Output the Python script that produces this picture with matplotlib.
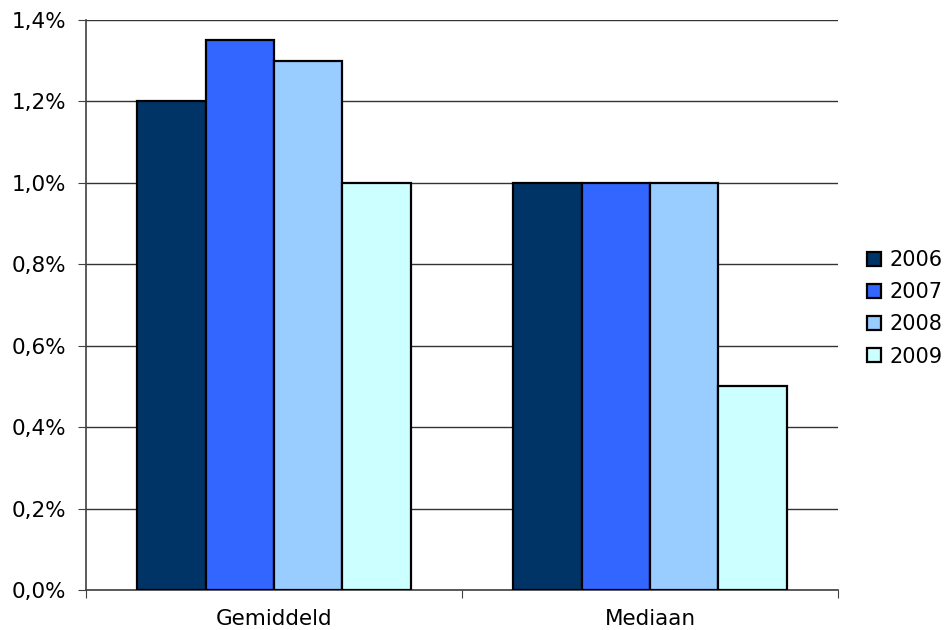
import numpy as np
import matplotlib.pyplot as plt
from matplotlib.ticker import FuncFormatter

categories = ['Gemiddeld', 'Mediaan']
years = ['2006', '2007', '2008', '2009']
values = {
    '2006': [1.20, 1.00],
    '2007': [1.35, 1.00],
    '2008': [1.30, 1.00],
    '2009': [1.00, 0.50],
}
colors = ['#003366', '#3366ff', '#99ccff', '#ccffff']

fig = plt.figure(figsize=(9.46, 6.3), dpi=100)
ax = fig.add_axes([0.0909, 0.0635, 0.795, 0.9048])

x = np.arange(len(categories))
width = 0.182
for i, (year, color) in enumerate(zip(years, colors)):
    offset = (i - 1.5) * width
    ax.bar(x + offset, values[year], width, color=color, edgecolor='black',
           linewidth=1.6, label=year, zorder=3)

ax.set_xlim(-0.5, 1.5)
ax.set_ylim(0, 1.4)
ax.set_yticks(np.arange(0, 1.41, 0.2))
ax.yaxis.set_major_formatter(FuncFormatter(lambda v, _: f'{v:.1f}%'.replace('.', ',')))
ax.yaxis.grid(True, color='#333333', linewidth=1, zorder=0)

# category labels sit between the tick marks
ax.set_xticks([-0.5, 0.5, 1.5])
ax.set_xticklabels([])
ax.set_xticks(x, minor=True)
ax.set_xticklabels(categories, minor=True)
ax.tick_params(axis='x', which='minor', length=0, pad=14, labelsize=15.5)
ax.tick_params(axis='x', which='major', length=6, color='#404040')
ax.tick_params(axis='y', length=6, color='#404040', labelsize=15.5, pad=8)

for side in ['top', 'right']:
    ax.spines[side].set_visible(False)
for side in ['left', 'bottom']:
    ax.spines[side].set_color('#404040')
    ax.spines[side].set_linewidth(1.2)

ax.legend(loc='center left', bbox_to_anchor=(1.0, 0.494), frameon=False,
          fontsize=15, handlelength=0.65, handleheight=0.65, handletextpad=0.4,
          labelspacing=0.58, borderaxespad=1.0)

fig.savefig('out.png', dpi=100)
